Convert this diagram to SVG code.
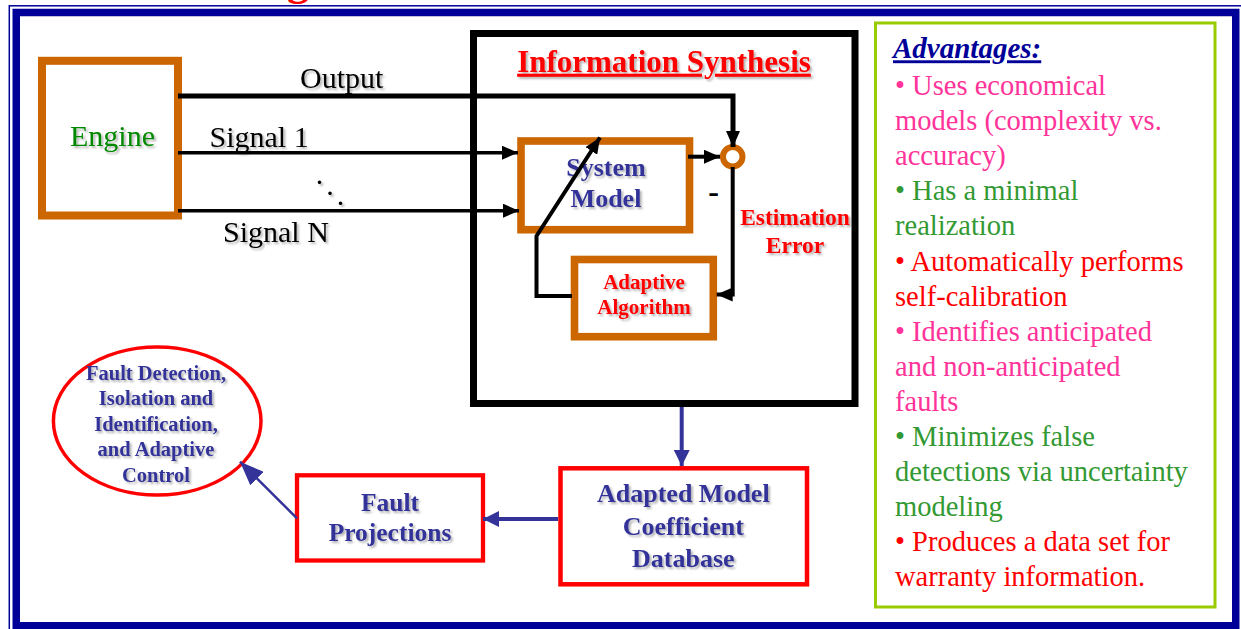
<svg xmlns="http://www.w3.org/2000/svg" width="1241" height="629" viewBox="0 0 1241 629">
<style>
  .serif { font-family: "Liberation Serif", "Times New Roman", serif; }
  .b { font-weight: bold; }
  .sh { filter: url(#shadow); }
  .orange { fill: #fff; stroke: #CC6600; }
  .redbox { fill: #fff; stroke: #FF0000; }
  .blk { fill: none; stroke: #000; stroke-linejoin: miter; }
  .blu { fill: none; stroke: #333399; }
  .lbl { font-size: 30px; fill: #000; }
  .navy { fill: #333399; }
  .adv { font-size: 28.5px; }
  .pink { fill: #FF3399; }
  .grn { fill: #339933; }
  .red { fill: #FF0000; }
</style>
<defs>
  <filter id="shadow" x="-10%" y="-20%" width="125%" height="150%">
    <feDropShadow dx="2" dy="2" stdDeviation="1.2" flood-color="#000" flood-opacity="0.3"/>
  </filter>
  <marker id="ah" markerUnits="userSpaceOnUse" markerWidth="16" markerHeight="14" refX="16" refY="7" orient="auto">
    <path d="M0,0 L16,7 L0,14 Z" fill="#000"/>
  </marker>
  <marker id="ahb" markerUnits="userSpaceOnUse" markerWidth="16" markerHeight="16" refX="16" refY="8" orient="auto">
    <path d="M0,0 L16,8 L0,16 Z" fill="#333399"/>
  </marker>
  <marker id="ahbig" markerUnits="userSpaceOnUse" markerWidth="24" markerHeight="19" refX="24" refY="9.5" orient="auto">
    <path d="M0,0 L24,9.5 L0,19 Z" fill="#333399"/>
  </marker>
</defs>

<rect width="1241" height="629" fill="#fff"/>

<!-- page frame -->
<g id="frame">
  <text class="serif b" x="287" y="-5" font-size="44" fill="#FF0000">g</text>
  <rect x="9.3" y="5.8" width="1260" height="660" fill="none" stroke="#000099" stroke-width="1.5"/>
  <rect x="16.25" y="12.5" width="1219.5" height="613.25" fill="none" stroke="#000099" stroke-width="7.5"/>
</g>

<g id="engine">
  <rect class="orange" x="42" y="60.8" width="136" height="154.7" stroke-width="8"/>
  <text class="serif sh" x="112.5" y="146" font-size="30" fill="#008800" text-anchor="middle">Engine</text>
</g>

<g id="information-synthesis">
  <rect x="473.5" y="33.5" width="381.5" height="370" fill="#fff" stroke="#000" stroke-width="7"/>
  <text class="serif b sh" x="664" y="71.7" font-size="31" fill="#FF0000" text-anchor="middle" text-decoration="underline">Information Synthesis</text>
</g>

<g id="system-model">
  <rect class="orange" x="521" y="141" width="168.5" height="88.7" stroke-width="7.6"/>
  <text class="serif b sh navy" x="606" y="176" font-size="26" text-anchor="middle">System</text>
  <text class="serif b sh navy" x="606" y="207" font-size="26" text-anchor="middle">Model</text>
</g>

<g id="summing-junction">
  <circle cx="732.7" cy="156.7" r="9.8" fill="#fff" stroke="#CC6600" stroke-width="6"/>
</g>

<g id="adaptive-algorithm">
  <rect class="orange" x="574.5" y="259.5" width="138.8" height="77.2" stroke-width="7.6"/>
  <text class="serif b sh red" x="644" y="289.3" font-size="21" text-anchor="middle">Adaptive</text>
  <text class="serif b sh red" x="644" y="314" font-size="21" text-anchor="middle">Algorithm</text>
</g>

<g id="estimation-error">
  <text class="serif b sh red" x="795" y="225" font-size="23.5" text-anchor="middle">Estimation</text>
  <text class="serif b sh red" x="795" y="253.3" font-size="23.5" text-anchor="middle">Error</text>
  <text class="serif b" x="713.5" y="202" font-size="32" fill="#000" text-anchor="middle">-</text>
</g>

<g id="fdi-ellipse">
  <ellipse cx="157.2" cy="421" rx="103.8" ry="74" fill="#fff" stroke="#FF0000" stroke-width="3.5"/>
  <g class="serif b sh navy" font-size="20.5" text-anchor="middle">
    <text x="156" y="380">Fault Detection,</text>
    <text x="156" y="405.4">Isolation and</text>
    <text x="156" y="430.8">Identification,</text>
    <text x="156" y="456.2">and Adaptive</text>
    <text x="156" y="481.6">Control</text>
  </g>
</g>

<g id="fault-projections">
  <rect class="redbox" x="297" y="475.3" width="186" height="85.2" stroke-width="4.3"/>
  <text class="serif b sh navy" x="390" y="510.7" font-size="25.5" text-anchor="middle">Fault</text>
  <text class="serif b sh navy" x="390" y="540.7" font-size="25.5" text-anchor="middle">Projections</text>
</g>

<g id="adapted-model-database">
  <rect class="redbox" x="560.5" y="468.3" width="246.5" height="116" stroke-width="4.5"/>
  <text class="serif b sh navy" x="683.3" y="501.7" font-size="26" text-anchor="middle">Adapted Model</text>
  <text class="serif b sh navy" x="683.3" y="535" font-size="26" text-anchor="middle">Coefficient</text>
  <text class="serif b sh navy" x="683.3" y="566.7" font-size="26" text-anchor="middle">Database</text>
</g>

<g id="signal-labels" class="serif sh lbl">
  <text x="300" y="88.3">Output</text>
  <text x="209.5" y="146.7">Signal 1</text>
  <text x="223" y="241.7">Signal N</text>
  <text font-size="30" text-anchor="middle"><tspan x="319.5" y="184">.</tspan><tspan x="330" y="194.5">.</tspan><tspan x="340.5" y="205">.</tspan></text>
</g>

<g id="connectors">
  <path class="blk" d="M178,96 H733 V147" stroke-width="5" marker-end="url(#ah)"/>
  <path class="blk" d="M178,152.7 H518" stroke-width="3.6" marker-end="url(#ah)"/>
  <path class="blk" d="M178,210.7 H519" stroke-width="3.6" marker-end="url(#ah)"/>
  <path class="blk" d="M688,156.7 H720" stroke-width="4" marker-end="url(#ah)"/>
  <path class="blk" d="M732.7,167 V294.5 H716.7" stroke-width="4" marker-end="url(#ah)"/>
  <path class="blk" d="M572,296 H536.5 V236 L600,137.5" stroke-width="4" marker-end="url(#ah)"/>
  <path class="blu" d="M681.7,407 V466" stroke-width="4" marker-end="url(#ahb)"/>
  <path class="blu" d="M558,519 H483" stroke-width="4" marker-end="url(#ahb)"/>
  <path class="blu" d="M297,518.3 L240,461.7" stroke-width="2.5" marker-end="url(#ahbig)"/>
</g>

<g id="advantages">
  <rect x="875.5" y="23" width="339.5" height="584" fill="#fff" stroke="#99CC00" stroke-width="3"/>
  <text class="serif b" x="893" y="58.3" font-size="29" font-style="italic" fill="#000099" text-decoration="underline">Advantages:</text>
  <g class="serif adv">
    <text class="pink" x="895" y="95">• Uses economical</text>
    <text class="pink" x="895" y="130.1">models (complexity vs.</text>
    <text class="pink" x="895" y="165.2">accuracy)</text>
    <text class="grn" x="895" y="200.3">• Has a minimal</text>
    <text class="grn" x="895" y="235.4">realization</text>
    <text class="red" x="895" y="270.5">• Automatically performs</text>
    <text class="red" x="895" y="305.6">self-calibration</text>
    <text class="pink" x="895" y="340.7">• Identifies anticipated</text>
    <text class="pink" x="895" y="375.8">and non-anticipated</text>
    <text class="pink" x="895" y="410.9">faults</text>
    <text class="grn" x="895" y="446">• Minimizes false</text>
    <text class="grn" x="895" y="481.1">detections via uncertainty</text>
    <text class="grn" x="895" y="516.2">modeling</text>
    <text class="red" x="895" y="551.3">• Produces a data set for</text>
    <text class="red" x="895" y="586.4">warranty information.</text>
  </g>
</g>
</svg>
